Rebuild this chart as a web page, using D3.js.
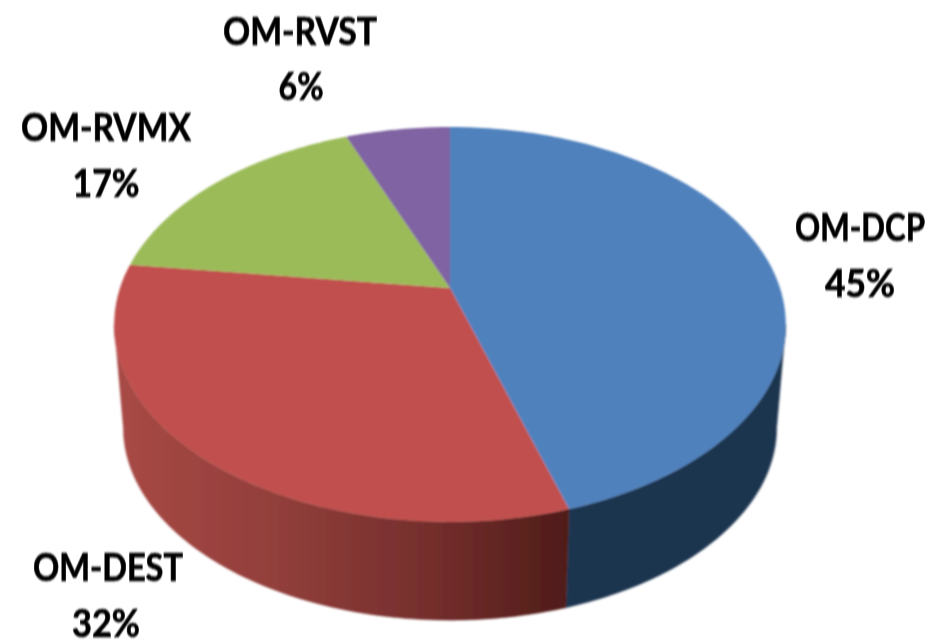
<!DOCTYPE html>
<html><head><meta charset="utf-8">
<script src="https://cdn.jsdelivr.net/npm/d3@7/dist/d3.min.js"></script>
<style>html,body{margin:0;padding:0;background:#fff}svg{display:block}</style></head>
<body><svg id="c" width="930" height="644"></svg>
<script>
const categories = ["OM-DCP","OM-DEST","OM-RVMX","OM-RVST"];
const shares = [45.2,31.8,17,6];
const percentLabels = ["45%","32%","17%","6%"];

const W=930,H=644,CX=450,P=0.1847;
const colors=d3.scaleOrdinal().domain(categories).range(["#4f81bd","#c0504d","#9bbb59","#8064a2"]);
const svg=d3.select("#c");
const defs=svg.append("defs");
const soft=defs.append("filter").attr("id","soft").attr("x","-5%").attr("y","-5%").attr("width","110%").attr("height","110%");
soft.append("feGaussianBlur").attr("stdDeviation",0.8);
const gBlue=defs.append("linearGradient").attr("id","wall0").attr("gradientUnits","userSpaceOnUse")
  .attr("x1",560).attr("x2",790).attr("y1",0).attr("y2",0);
gBlue.append("stop").attr("offset",0).attr("stop-color","#1f3550");
gBlue.append("stop").attr("offset",1).attr("stop-color","#1f3550");
const gRed=defs.append("linearGradient").attr("id","wall1").attr("gradientUnits","userSpaceOnUse")
  .attr("x1",118).attr("x2",567).attr("y1",0).attr("y2",0);
[[0,"#a84945"],[0.35,"#923f3b"],[0.7,"#742e2c"],[1,"#501c19"]].forEach(([o,c])=>gRed.append("stop").attr("offset",o).attr("stop-color",c));

function proj(a,level){
  const x=Math.sin(a),y=-Math.cos(a),d=1-P*y;
  return level===0?[CX+330*x/d,288+190.7*y/d]:[CX+321*x/d,392+186*y/d];
}
const pie=d3.pie().sort(null).value(d=>d);
const arcs=pie(shares);
const line=d3.line();
function arcPts(s,e,level){const n=Math.max(8,Math.ceil((e-s)*60));return d3.range(n+1).map(i=>proj(s+(e-s)*i/n,level));}

const tanR=Math.acos(-P),tanL=2*Math.PI-tanR;
const g=svg.append("g").attr("filter","url(#soft)");
g.selectAll("path.wall").data(arcs.slice(0,2)).join("path").attr("class","wall")
  .attr("d",d=>{
    const s=Math.max(d.startAngle,tanR),e=Math.min(d.endAngle,tanL);
    return line(arcPts(s,e,0).concat(arcPts(s,e,1).reverse()))+"Z";
  })
  .attr("fill",(d,i)=>`url(#wall${i})`).attr("stroke",(d,i)=>`url(#wall${i})`).attr("stroke-width",0.5);
g.selectAll("path.top").data(arcs).join("path").attr("class","top")
  .attr("d",d=>line([[CX,288]].concat(arcPts(d.startAngle,d.endAngle,0)))+"Z")
  .attr("fill",(d,i)=>colors(categories[i]));

const labelPos=[[860,241,130],[108,581,150],[106,141,170],[300,45,154]];
const pctPos=[[860,297,70],[106,637,68],[106,197,67],[301,100,45]];
const t=svg.append("g")
  .attr("font-family","Lato, 'Open Sans', sans-serif").attr("font-weight",700).attr("font-size",39)
  .attr("fill","#000").attr("stroke","#000").attr("stroke-width",0.7).attr("text-anchor","middle");
function put(str,[x,y,w]){
  const el=t.append("text").attr("filter","url(#soft)").text(str);
  const sx=w/el.node().getComputedTextLength();
  el.attr("transform",`translate(${x},${y}) scale(${sx},1)`);
}
categories.forEach((c,i)=>{put(c,labelPos[i]);put(percentLabels[i],pctPos[i]);});
</script></body></html>
